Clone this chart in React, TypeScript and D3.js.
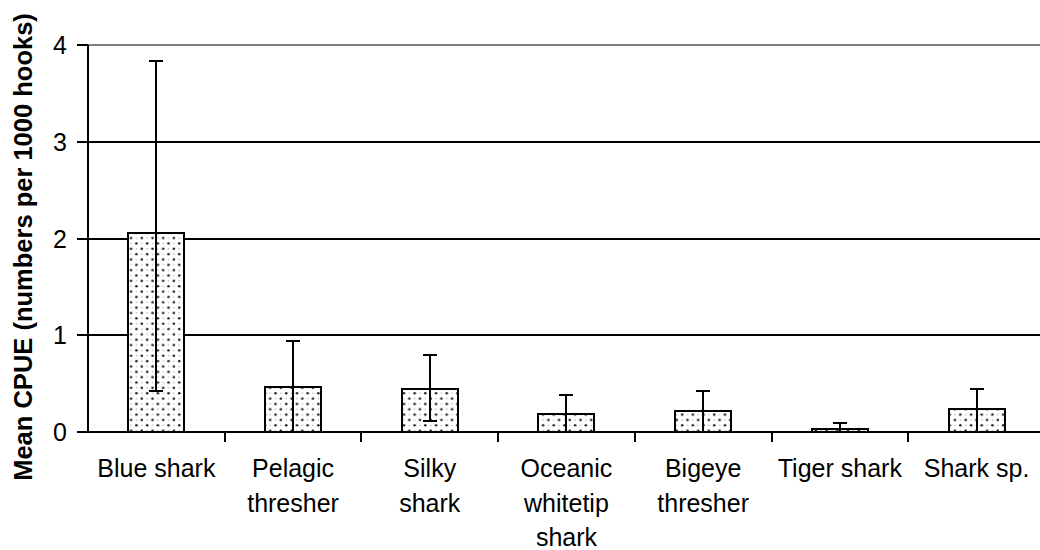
import React from "react";
import * as d3 from "d3";

const categories: string[][] = [
  ["Blue shark"],
  ["Pelagic", "thresher"],
  ["Silky", "shark"],
  ["Oceanic", "whitetip", "shark"],
  ["Bigeye", "thresher"],
  ["Tiger shark"],
  ["Shark sp."],
];
const meanCPUE = [2.06, 0.465, 0.44, 0.19, 0.22, 0.03, 0.24];
const errUpper = [3.83, 0.94, 0.8, 0.38, 0.42, 0.09, 0.44];
const errLower = [0.42, 0, 0.11, 0, 0, 0, 0];
const yTicks = [0, 1, 2, 3, 4];
const yTitle = "Mean CPUE (numbers per 1000 hooks)";

const W = 1040;
const H = 550;
const FONT = "'Liberation Sans', Arial, sans-serif";

export default function App() {
  const keys = categories.map((c) => c.join(" "));
  const x = d3.scaleBand<string>().domain(keys).range([88, 88 + 7 * 136.7]).padding(0);
  const yRaw = d3.scaleLinear().domain([0, 4]).range([432, 45]);
  const y = (v: number) => Math.round(yRaw(v));
  const bw = x.bandwidth();
  const barW = 56;
  const capW = 14;

  return (
    <svg width={W} height={H} style={{ position: "absolute", left: 0, top: 0, background: "#fff" }}>
      <defs>
        <pattern id="dots" patternUnits="userSpaceOnUse" width={10.7} height={10.7}>
          <rect width={10.7} height={10.7} fill="#fff" />
          <circle cx={2.7} cy={2.7} r={1.3} fill="#222" />
          <circle cx={8.05} cy={8.05} r={1.3} fill="#222" />
          <circle cx={8.05} cy={2.7} r={0.7} fill="#aaa" />
          <circle cx={2.7} cy={8.05} r={0.7} fill="#aaa" />
        </pattern>
      </defs>
      {/* gridlines */}
      {yTicks.filter((t) => t > 0 && t < 4).map((t) => (
        <line key={t} x1={88} x2={W} y1={y(t)} y2={y(t)} stroke="#000" strokeWidth={2} />
      ))}
      <line x1={88} x2={W} y1={y(4)} y2={y(4)} stroke="#808080" strokeWidth={2} />
      {/* bars */}
      {keys.map((k, i) => {
        const cx = Math.round((x(k) as number) + bw / 2);
        return (
          <rect key={k} x={cx - barW / 2} y={y(meanCPUE[i])} width={barW}
            height={y(0) - y(meanCPUE[i])} fill="url(#dots)" stroke="#000" strokeWidth={2} />
        );
      })}
      {/* error bars */}
      {keys.map((k, i) => {
        const cx = Math.round((x(k) as number) + bw / 2);
        return (
          <g key={k} stroke="#000" strokeWidth={2}>
            <line x1={cx} x2={cx} y1={y(errUpper[i])} y2={y(errLower[i])} />
            <line x1={cx - capW / 2} x2={cx + capW / 2} y1={y(errUpper[i])} y2={y(errUpper[i])} />
            {errLower[i] > 0 && (
              <line x1={cx - capW / 2} x2={cx + capW / 2} y1={y(errLower[i])} y2={y(errLower[i])} />
            )}
          </g>
        );
      })}
      {/* axes */}
      <line x1={88} x2={88} y1={y(4)} y2={y(0)} stroke="#000" strokeWidth={2} />
      <line x1={87} x2={W} y1={y(0)} y2={y(0)} stroke="#000" strokeWidth={2} />
      {yTicks.map((t) => (
        <g key={t}>
          <line x1={77} x2={88} y1={y(t)} y2={y(t)} stroke="#000" strokeWidth={2} />
          <text x={67} y={y(t)} dy="0.35em" textAnchor="end" fontFamily={FONT} fontSize={25} fill="#000">
            {t}
          </text>
        </g>
      ))}
      {keys.map((k) => {
        const bx = Math.round((x(k) as number) + bw);
        return (
          <line key={k} x1={bx} x2={bx} y1={y(0)} y2={y(0) + 10} stroke="#000" strokeWidth={2} />
        );
      })}
      {/* x labels */}
      {keys.map((k, i) => {
        const cx = (x(k) as number) + bw / 2;
        return (
          <text key={k} textAnchor="middle" fontFamily={FONT} fontSize={25} fill="#000">
            {categories[i].map((line, j) => (
              <tspan key={j} x={cx} y={477 + j * 34.5}>{line}</tspan>
            ))}
          </text>
        );
      })}
      {/* y title */}
      <text transform={`translate(32,247) rotate(-90)`} textAnchor="middle" fontFamily={FONT}
        fontSize={25.5} fontWeight="bold" fill="#000">
        {yTitle}
      </text>
    </svg>
  );
}
